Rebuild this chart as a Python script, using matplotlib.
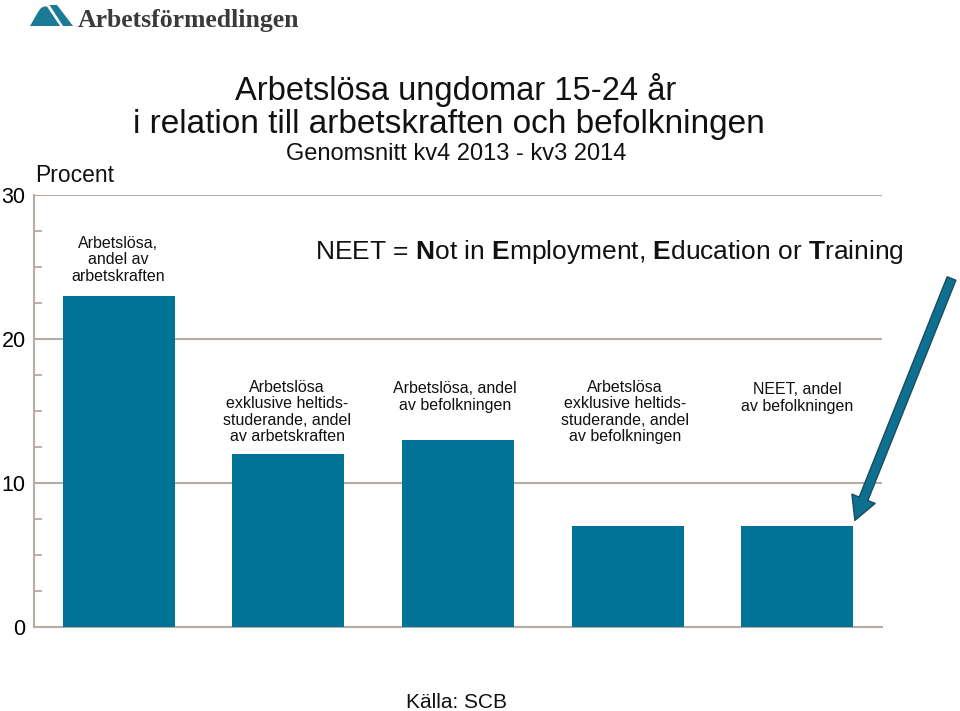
import matplotlib
matplotlib.use("Agg")
import matplotlib.pyplot as plt
from matplotlib.patches import Polygon
from matplotlib.ticker import MultipleLocator

plt.rcParams['font.family'] = ['Liberation Sans', 'DejaVu Sans']
plt.rcParams['mathtext.fontset'] = 'custom'
plt.rcParams['mathtext.rm'] = 'Liberation Sans'
plt.rcParams['mathtext.bf'] = 'Liberation Sans:bold'

# ---- data ----
categories = [
    "Arbetslösa,\nandel av\narbetskraften",
    "Arbetslösa\nexklusive heltids-\nstuderande, andel\nav arbetskraften",
    "Arbetslösa, andel\nav befolkningen",
    "Arbetslösa\nexklusive heltids-\nstuderande, andel\nav befolkningen",
    "NEET, andel\nav befolkningen",
]
values = [23.0, 12.0, 13.0, 7.0, 7.0]
yticks = [0, 10, 20, 30]

W, H = 960, 711
fig = plt.figure(figsize=(9.6, 7.11), dpi=100)

def fx(px):
    return px / W

def fy(py):
    return 1 - py / H

BAR = '#007396'
GRID = '#b5ada4'

ax = fig.add_axes([fx(34), fy(627), fx(882) - fx(34), fy(195) - fy(627)])
x = list(range(len(values)))
ax.bar(x, values, width=0.66, color=BAR, zorder=3)
ax.set_xlim(-0.5, len(values) - 0.5)
ax.set_ylim(0, 30)
ax.set_yticks(yticks)
ax.set_yticklabels([str(t) for t in yticks], fontsize=15.5)
ax.yaxis.set_minor_locator(MultipleLocator(2.5))
ax.tick_params(axis='y', which='major', length=0, pad=6)
ax.tick_params(axis='y', which='minor', length=6, direction='in', color=GRID, width=1.3)
ax.set_xticks([])
ax.grid(axis='y', which='major', color=GRID, lw=1.5, zorder=1)
for s in ['top', 'right']:
    ax.spines[s].set_visible(False)
for s in ['left', 'bottom']:
    ax.spines[s].set_color(GRID)
    ax.spines[s].set_linewidth(1.5)

# bar labels
label_pos = [(118, 260), (287, 412), (455, 397), (625, 412), (797, 398)]
for (px, py), lab in zip(label_pos, categories):
    fig.text(fx(px), fy(py), lab, ha='center', va='center', fontsize=11.5,
             linespacing=1.1, color='#111111', multialignment='center')

# arrow
ax.annotate('', xy=(4.34, 7.4), xytext=(4.91, 24.2), xycoords='data',
            textcoords='data', annotation_clip=False,
            arrowprops=dict(arrowstyle='simple,head_length=0.7,head_width=0.75,tail_width=0.28',
                            fc='#0e7090', ec='#1d4a5c', lw=1.0, mutation_scale=24,
                            shrinkA=0, shrinkB=0))

# titles
fig.text(fx(456), fy(100), "Arbetslösa ungdomar 15-24 år", ha='center', va='baseline',
         fontsize=23.5, color='#111111')
fig.text(fx(449), fy(133), "i relation till arbetskraften och befolkningen", ha='center',
         va='baseline', fontsize=24, color='#111111')
fig.text(fx(456), fy(160), "Genomsnitt kv4 2013 - kv3 2014", ha='center', va='baseline',
         fontsize=17, color='#111111')
fig.text(fx(35), fy(176), "Procent", ha='left', va='center', fontsize=16.5, color='#111111')
fig.text(fx(315), fy(252),
         r"NEET = $\mathbf{N}$ot in $\mathbf{E}$mployment, $\mathbf{E}$ducation or $\mathbf{T}$raining",
         ha='left', va='center', fontsize=19, color='#111111')
fig.text(fx(457), fy(702), "Källa: SCB", ha='center', va='center', fontsize=15, color='#111111')

# logo
LOGO = '#1b7a96'
mound = [(30, 26), (38, 12), (41, 8), (44, 6.5), (47, 6.5), (60, 26)]
stripe = [(49.5, 5), (57, 5), (73, 26), (63, 26)]
for pts in (mound, stripe):
    fig.patches.append(Polygon([(fx(a), fy(b)) for a, b in pts], closed=True,
                               transform=fig.transFigure, fc=LOGO, ec='none',
                               figure=fig))
fig.text(fx(78), fy(27), "Arbetsförmedlingen", ha='left', va='baseline',
         fontsize=18.5, fontweight='bold', family='Liberation Serif', color='#3a3a3a')

fig.savefig('out.png', dpi=100)
